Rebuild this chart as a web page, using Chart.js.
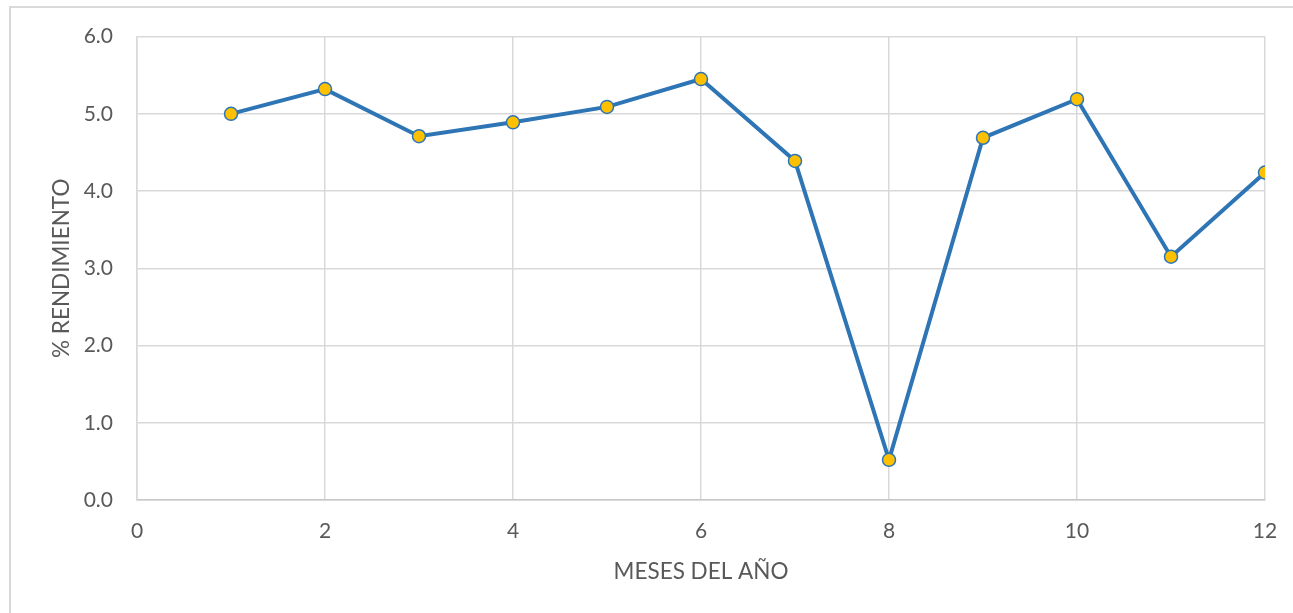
<!DOCTYPE html>
<html>
<head>
<meta charset="utf-8">
<script src="https://cdn.jsdelivr.net/npm/chart.js@4.4.1/dist/chart.umd.min.js"></script>
<style>
  html, body { margin: 0; padding: 0; background: #ffffff; }
  #wrap { position: relative; width: 1293px; height: 613px; overflow: hidden; }
  #frame { position: absolute; left: 9px; top: 6px; width: 1400px; height: 800px;
           border: 2px solid #d9d9d9; box-sizing: border-box; }
  canvas { position: absolute; left: 0; top: 0; }
</style>
</head>
<body>
<div id="wrap">
  <div id="frame"></div>
  <canvas id="chart" width="1293" height="613"></canvas>
</div>
<script>
// Monthly yield (%) for each month of the year
const months = [1, 2, 3, 4, 5, 6, 7, 8, 9, 10, 11, 12];
const rendimiento = [5.00, 5.32, 4.71, 4.89, 5.09, 5.45, 4.39, 0.52, 4.69, 5.19, 3.15, 4.24];

const xTitle = 'MESES DEL AÑO';
const yTitle = '% RENDIMIENTO';

const points = months.map((m, i) => ({ x: m, y: rendimiento[i] }));

const labelFont = { family: 'Lato, "Open Sans", sans-serif', size: 21 };
const titleFont = { family: 'Lato, "Open Sans", sans-serif', size: 22.5 };
const textColor = '#595959';
const gridColor = '#d9d9d9';

new Chart(document.getElementById('chart'), {
  type: 'line',
  data: {
    datasets: [{
      data: points,
      borderColor: '#2e75b6',
      borderWidth: 4,
      pointRadius: 6.5,
      pointBorderWidth: 1.5,
      pointBackgroundColor: '#ffc000',
      pointBorderColor: '#2e75b6',
      tension: 0,
      fill: false
    }]
  },
  options: {
    responsive: false,
    animation: false,
    layout: { padding: { top: 36, right: 28, left: 0, bottom: 0 } },
    plugins: { legend: { display: false }, tooltip: { enabled: false } },
    scales: {
      x: {
        type: 'linear',
        min: 0,
        max: 12,
        afterFit: (s) => { s.height = 113; },
        ticks: { stepSize: 2, color: textColor, font: labelFont, padding: 19 },
        grid: { color: gridColor, lineWidth: 1.5, drawTicks: false },
        border: { color: '#c8c8c8', width: 1.5 },
        title: { display: true, text: xTitle, color: textColor, font: titleFont,
                 padding: { top: 0, bottom: 28 } }
      },
      y: {
        min: 0,
        max: 6,
        afterFit: (s) => { s.width = 137; },
        ticks: { stepSize: 1, color: textColor, font: labelFont, padding: 24,
                 callback: (v) => Number(v).toFixed(1) },
        grid: { color: gridColor, lineWidth: 1.5, drawTicks: false },
        border: { color: gridColor, width: 1.5 },
        title: { display: true, text: yTitle, color: textColor, font: titleFont,
                 padding: { top: 48, bottom: 0 } }
      }
    }
  },
  plugins: [{
    // keep the plot area's right edge fixed regardless of label overhang
    id: 'fixRight',
    afterLayout(chart) {
      const x = chart.scales.x;
      const target = 1265;
      if (Math.abs(x.right - target) > 0.5) {
        x.right = target;
        x.width = x.right - x.left;
        chart.chartArea.right = target;
        chart.chartArea.width = target - chart.chartArea.left;
        x.configure();
      }
    }
  }]
});
</script>
</body>
</html>
